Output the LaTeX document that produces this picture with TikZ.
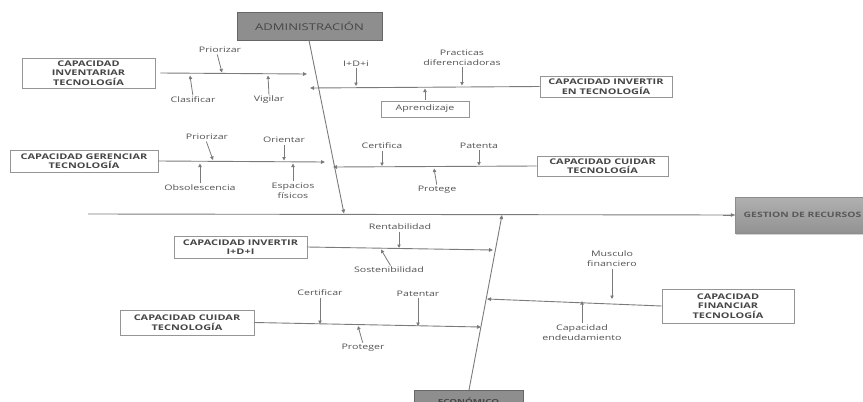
\documentclass[tikz,border=0pt]{standalone}
\usepackage{fontspec}
\setmainfont{Open Sans}[FakeStretch=1.4]
\usetikzlibrary{arrows.meta,shadows}
\definecolor{linegray}{HTML}{7A7A7A}
\definecolor{txtgray}{HTML}{525252}
\definecolor{boxtxt}{HTML}{464646}
\definecolor{headfill}{HTML}{8E8E8E}
\begin{document}
\begin{tikzpicture}[x=1pt,y=-1pt,
  line/.style={draw=linegray, line width=0.9pt},
  arr/.style={line, -{Triangle[length=4pt,width=3.6pt]}},
  tick/.style={draw=linegray, line width=0.8pt, -{Triangle[length=3.5pt,width=3.4pt]}, shorten <=1pt},
  capbox/.style={draw=linegray!80, line width=0.6pt, fill=white, text=boxtxt,
    font=\bfseries\fontsize{7.8}{9.5}\selectfont, align=center, inner sep=0pt},
  lbl/.style={text=txtgray, font=\fontsize{7.6}{10}\selectfont, align=center, inner sep=0.5pt},
  headbox/.style={draw=black!60, line width=0.6pt, fill=headfill, text=black!72, inner sep=0pt},
]
\useasboundingbox (0,0) rectangle (863,402);

% ---- heads of the fishbone
\node[headbox, minimum width=145pt, minimum height=28pt,
      font=\fontsize{9.3}{10}\selectfont] (adm) at (309.5,26) {ADMINISTRACIÓN};
\node[headbox, minimum width=109pt, minimum height=24pt,
      font=\bfseries\fontsize{7}{8}\selectfont] (eco) at (468.5,402) {\raisebox{2.5pt}{ECONÓMICO}};
\node[draw=black!45, line width=0.5pt, top color=gray!62, bottom color=gray!85,
      drop shadow={shadow xshift=1pt, shadow yshift=-1.5pt, opacity=0.35},
      minimum width=135pt, minimum height=36pt, inner sep=0pt,
      text=black!65, font=\bfseries\fontsize{7.4}{8}\selectfont] (gest) at (802.5,215) {GESTION DE RECURSOS};

% ---- spine and main axis
\coordinate (axisL) at (88,214);
\coordinate (admEnd) at (344,213.5);
\coordinate (ecoTop) at (502,215);
\coordinate (ecoBot) at (469,390);
\draw[line] (axisL) -- (gest.west);
\draw[arr] (gest.west) ++(-12,0) -- (gest.west);
\draw[arr] (adm.south) ++(-0.5,0) coordinate (admTop) -- (admEnd);
\draw[arr] (ecoBot) -- (ecoTop);

% ---- cause boxes
\node[capbox, minimum width=133pt, minimum height=30pt] (inv)  at (88.5,73)   {CAPACIDAD\\INVENTARIAR\\TECNOLOGÍA};
\node[capbox, minimum width=132pt, minimum height=21pt] (invt) at (606,86.5)  {CAPACIDAD INVERTIR\\EN TECNOLOGÍA};
\node[capbox, minimum width=148pt, minimum height=22pt] (ger)  at (84,161)    {CAPACIDAD GERENCIAR\\TECNOLOGÍA};
\node[capbox, minimum width=131pt, minimum height=20pt] (cuiA) at (602.5,166) {CAPACIDAD CUIDAR\\TECNOLOGÍA};
\node[capbox, minimum width=133pt, minimum height=22pt] (idi)  at (240.5,247) {CAPACIDAD INVERTIR\\I+D+I};
\node[capbox, minimum width=134pt, minimum height=25pt] (cuiB) at (187,322.5) {CAPACIDAD CUIDAR\\TECNOLOGÍA};
\node[capbox, minimum width=132pt, minimum height=34pt] (fin)  at (728,306)   {CAPACIDAD\\FINANCIAR\\TECNOLOGÍA};
\node[capbox, font=\fontsize{7.6}{9}\selectfont, text=txtgray, minimum width=88pt, minimum height=16pt] (apr) at (425,109) {Aprendizaje};

% ---- branches onto the spines
\coordinate (b1) at (307,74);
\coordinate (b2) at (310,88);
\coordinate (b3) at (325,162);
\coordinate (b4) at (333,167);
\coordinate (b5) at (493,250);
\coordinate (b6) at (481,327);
\coordinate (b7) at (487,299);
\draw[arr] ([xshift=5pt]inv.east) -- (b1);
\draw[arr] (invt.west) -- (b2);
\draw[arr] (ger.east) -- (b3);
\draw[arr] (cuiA.west) -- (b4);
\draw[arr] (idi.east) -- (b5);
\draw[arr] (cuiB.east) -- (b6);
\draw[arr] (fin.west) -- (b7);

% ---- sub-causes: inventariar
\node[lbl] (l1) at (220,50)  {Priorizar};
\node[lbl] (l2) at (193,100) {Clasificar};
\node[lbl] (l3) at (269,100) {Vigilar};
\coordinate (t1) at (222,72.5);
\coordinate (t2) at (190,75.5);
\coordinate (t3) at (268,75.5);
\draw[tick] ([xshift=-3pt]l1.south) -- (t1);
\draw[tick] (l2.north) -- (t2);
\draw[tick] (l3.north) -- (t3);

% ---- sub-causes: invertir en tecnologia
\node[lbl] (l4) at (356,64)  {I+D+i};
\node[lbl] (l5) at (462,57.5) {Practicas\\diferenciadoras};
\coordinate (t4) at (356,86);
\coordinate (t5) at (462,85.5);
\coordinate (t6) at (425,88.5);
\draw[tick] (l4.south) -- (t4);
\draw[tick] (l5.south) -- (t5);
\draw[tick] (apr.north) -- (t6);

% ---- sub-causes: gerenciar
\node[lbl] (l6) at (207,137) {Priorizar};
\node[lbl] (l7) at (284,140) {Orientar};
\node[lbl] (l8) at (200,188) {Obsolescencia};
\node[lbl] (l9) at (293,190.5) {Espacios\\físicos};
\coordinate (t7) at (213,160);
\coordinate (t8) at (284,160.5);
\coordinate (t9) at (200,163.5);
\coordinate (t10) at (293,163.5);
\draw[tick] ([xshift=-1pt]l6.south) -- (t7);
\draw[tick] (l7.south) -- (t8);
\draw[tick] (l8.north) -- (t9);
\draw[tick] (l9.north) -- (t10);

% ---- sub-causes: cuidar (upper)
\node[lbl] (l10) at (382,146) {Certifica};
\node[lbl] (l11) at (479,146) {Patenta};
\node[lbl] (l12) at (437,190) {Protege};
\coordinate (t11) at (382,166);
\coordinate (t12) at (479,165.5);
\coordinate (t13) at (434,168.5);
\draw[tick] (l10.south) -- (t11);
\draw[tick] (l11.south) -- (t12);
\draw[tick] (l12.north) -- (t13);

% ---- sub-causes: invertir I+D+I
\node[lbl] (l13) at (400,227) {Rentabilidad};
\node[lbl] (l14) at (389,270) {Sostenibilidad};
\coordinate (t14) at (399,248);
\coordinate (t15) at (381,249.5);
\draw[tick] ([xshift=-1pt]l13.south) -- (t14);
\draw[tick] ([xshift=2pt]l14.north) -- (t15);

% ---- sub-causes: cuidar (lower)
\node[lbl] (l15) at (320,293) {Certificar};
\node[lbl] (l16) at (418,294) {Patentar};
\node[lbl] (l17) at (363,348) {Proteger};
\coordinate (t16) at (320,324);
\coordinate (t17) at (418,326);
\coordinate (t18) at (358,326);
\draw[tick] (l15.south) -- (t16);
\draw[tick] (l16.south) -- (t17);
\draw[tick] (l17.north) -- (t18);

% ---- sub-causes: financiar
\node[lbl] (l18) at (612,259) {Musculo\\financiero};
\node[lbl] (l19) at (582,332.5) {Capacidad\\endeudamiento};
\coordinate (t19) at (612,299);
\coordinate (t20) at (582,301);
\draw[tick] (l18.south) -- (t19);
\draw[tick] (l19.north) -- (t20);
\end{tikzpicture}
\end{document}
